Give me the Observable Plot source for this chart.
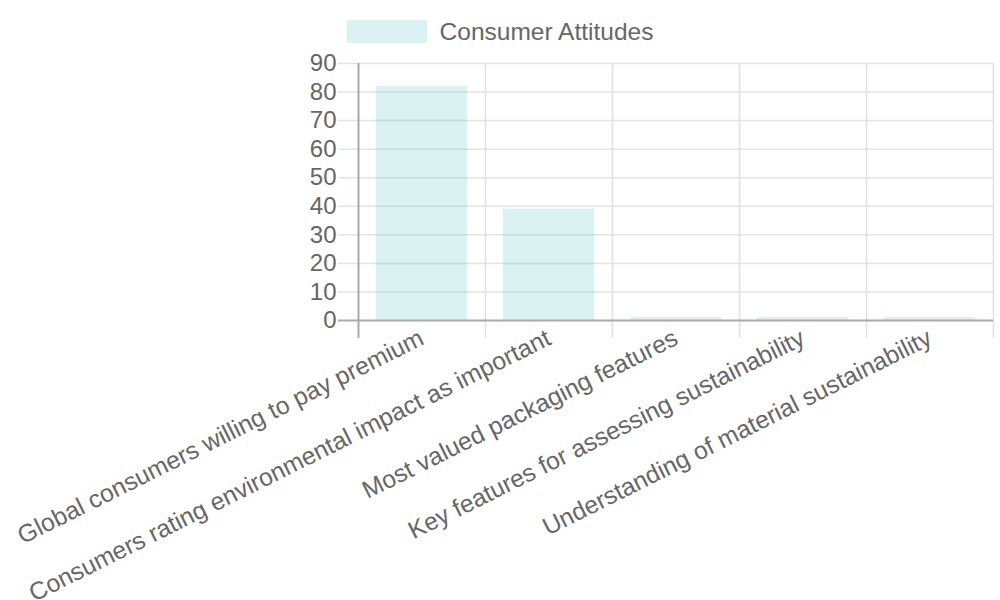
<!DOCTYPE html>
<html>
<head>
<meta charset="utf-8">
<script src="https://cdn.jsdelivr.net/npm/d3@7"></script>
<script src="https://cdn.jsdelivr.net/npm/@observablehq/plot@0.6"></script>
<style>
  html, body { margin: 0; padding: 0; background: #fff; }
  body { width: 1000px; height: 600px; overflow: hidden; font-family: "Liberation Sans", Arial, sans-serif; }
  #legend { height: 44px; box-sizing: border-box; padding-top: 20px; display: flex; justify-content: center; align-items: flex-start; }
  #legend .sw { width: 80px; height: 23px; background: rgba(75,192,192,0.2); margin-right: 13px; }
  #legend .lb { font-size: 24.5px; line-height: 23px; color: #666; }
  svg { display: block; }
</style>
</head>
<body>
<div id="legend"><div class="sw"></div><div class="lb">Consumer Attitudes</div></div>
<div id="chart"></div>
<script>
const categories = [
  "Global consumers willing to pay premium",
  "Consumers rating environmental impact as important",
  "Most valued packaging features",
  "Key features for assessing sustainability",
  "Understanding of material sustainability"
];
const values = [82, 39, 1, 1, 1];
const yTicks = [0, 10, 20, 30, 40, 50, 60, 70, 80, 90];
const seriesName = "Consumer Attitudes";

const data = categories.map((c, i) => ({category: c, value: values[i], series: seriesName}));

const width = 1000, height = 556;
const marginLeft = 358, marginRight = 7, marginTop = 19, marginBottom = 280;
const step = (width - marginLeft - marginRight) / categories.length;

const chart = Plot.plot({
  width, height, marginLeft, marginRight, marginTop, marginBottom,
  style: {fontFamily: '"Liberation Sans", Arial, sans-serif', background: "transparent", overflow: "visible"},
  x: {type: "band", domain: categories, padding: 0, label: null},
  y: {domain: [0, 90], ticks: yTicks, label: null},
  marks: [
    // horizontal grid
    Plot.ruleY(yTicks.filter(t => t !== 0), {y: d => d, stroke: "#e3e3e3", strokeWidth: 1.5, insetLeft: -20}),
    // vertical grid at category boundaries
    Plot.ruleX(categories.slice(1), {x: d => d, dx: -step / 2, y1: 90, y2: 0, stroke: "#e0e0e0", strokeWidth: 1.5, insetBottom: -18}),
    Plot.ruleX(categories.slice(-1), {x: d => d, dx: step / 2, y1: 90, y2: 0, stroke: "#e0e0e0", strokeWidth: 1.5, insetBottom: -18}),
    // bars
    Plot.barY(data, {x: "category", y: "value", fill: "rgba(75,192,192,0.2)", insetLeft: step * 0.14, insetRight: step * 0.14}),
    // axis lines
    Plot.ruleY([0], {stroke: "#aaaaaa", strokeWidth: 2, insetLeft: -20}),
    Plot.ruleX(categories.slice(0, 1), {x: d => d, dx: -step / 2, y1: 90, y2: 0, stroke: "#aaaaaa", strokeWidth: 2, insetBottom: -18}),
    Plot.axisY({ticks: yTicks, tickSize: 0, tickPadding: 22, fontSize: 24, fill: "#666", label: null}),
    Plot.axisX({tickSize: 0, tickRotate: -26.5, tickPadding: 16, fontSize: 24.7, fill: "#666", label: null})
  ]
});
document.getElementById("chart").appendChild(chart);
</script>
</body>
</html>
